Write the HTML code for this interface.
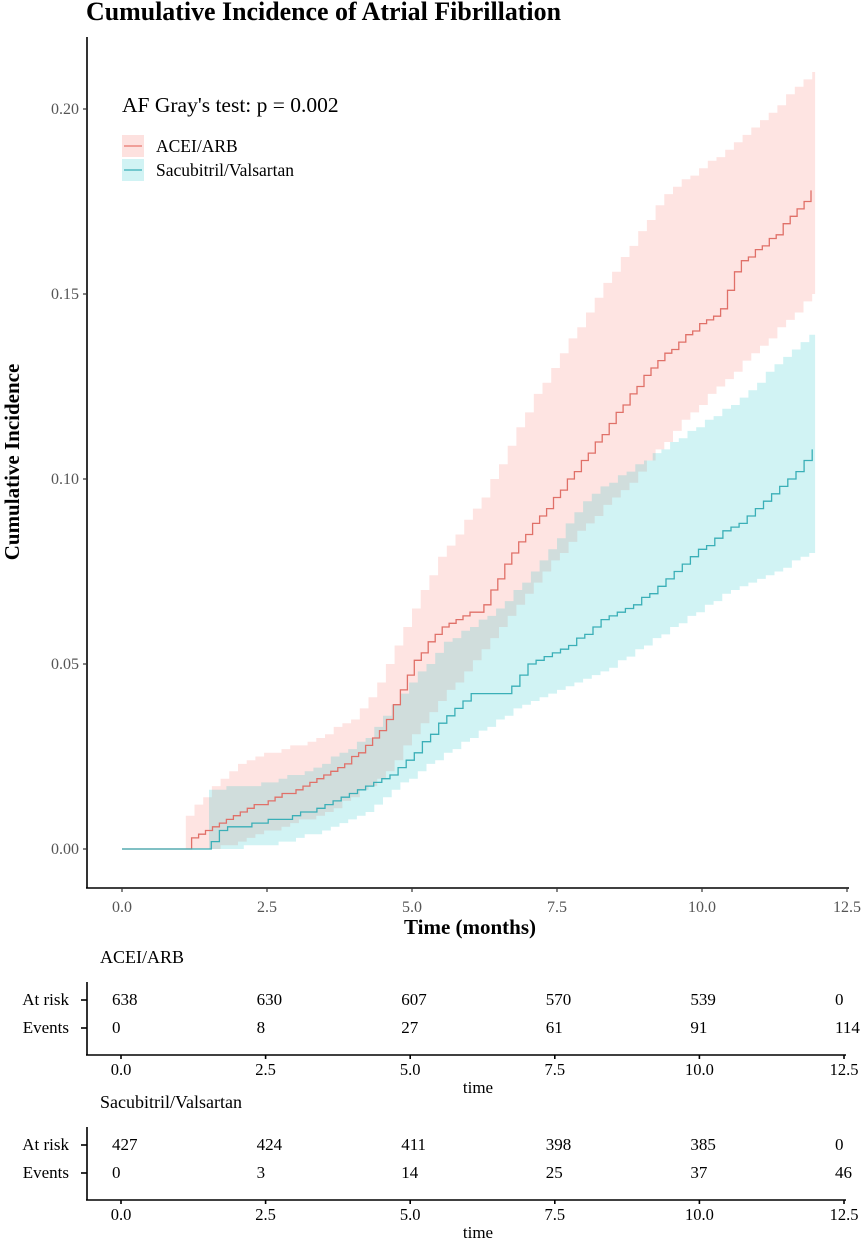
<!DOCTYPE html>
<html><head><meta charset="utf-8"><style>
html,body{margin:0;padding:0;background:#fff;}
svg{display:block;font-family:"Liberation Serif",serif;}
</style></head><body>
<svg id="s" width="863" height="1242" viewBox="0 0 863 1242" xmlns="http://www.w3.org/2000/svg">
<text x="86" y="20" font-size="26" font-weight="bold" fill="#000" textLength="475" lengthAdjust="spacingAndGlyphs">Cumulative Incidence of Atrial Fibrillation</text>
<g id="plot"></g>
<line x1="87" y1="37" x2="87" y2="888" stroke="#000" stroke-width="1.6"/>
<line x1="86" y1="888" x2="849" y2="888" stroke="#000" stroke-width="1.6"/>
<g id="ax" font-size="16" fill="#555"></g>
<text x="470" y="934" text-anchor="middle" font-size="21" font-weight="bold">Time (months)</text>
<text transform="translate(19,462) rotate(-90)" text-anchor="middle" font-size="21" font-weight="bold">Cumulative Incidence</text>
<text x="122" y="112" font-size="21.5">AF Gray's test: p = 0.002</text>
<rect x="122" y="135" width="22" height="22" fill="#F8766D" fill-opacity="0.22"/>
<line x1="124" y1="146" x2="142" y2="146" stroke="#E8766D" stroke-width="1.3"/>
<rect x="122" y="159" width="22" height="22" fill="#00BFC4" fill-opacity="0.18"/>
<line x1="124" y1="170" x2="142" y2="170" stroke="#3AAFB7" stroke-width="1.3"/>
<text x="156" y="152" font-size="17.5">ACEI/ARB</text>
<text x="156" y="176" font-size="17.5">Sacubitril/Valsartan</text>
<g id="tab" font-size="17" fill="#000"></g>
</svg>
<script>
var NS="http://www.w3.org/2000/svg";
function el(p,t,a,txt){var e=document.createElementNS(NS,t);for(var k in a)e.setAttribute(k,a[k]);if(txt!=null)e.textContent=txt;p.appendChild(e);return e;}
var X=function(t){return 122+58*t;}, Y=function(v){return 849-3700*v;};
function interp(pts,t){if(t<=pts[0][0])return pts[0][1];for(var i=1;i<pts.length;i++){if(t<=pts[i][0]){var a=pts[i-1],b=pts[i];return a[1]+(b[1]-a[1])*(t-a[0])/(b[0]-a[0]);}}return pts[pts.length-1][1];}
function steps(pts,start,end,dt){var r=[];for(var t=start;t<=end+1e-9;t+=dt){var v=Math.round(interp(pts,t)*1000)/1000;r.push([t,v]);}return r;}
function stepPath(s){var d="M"+X(s[0][0])+","+Y(s[0][1]);for(var i=1;i<s.length;i++){d+="H"+X(s[i][0]).toFixed(1)+"V"+Y(s[i][1]).toFixed(1);}return d;}
function band(up,lo){var d="M"+X(up[0][0])+","+Y(up[0][1]);for(var i=1;i<up.length;i++){d+="H"+X(up[i][0]).toFixed(1)+"V"+Y(up[i][1]).toFixed(1);}
d+="H"+X(11.95).toFixed(1)+"V"+Y(lo[lo.length-1][1]).toFixed(1);for(var i=lo.length-1;i>=1;i--){d+="H"+X(lo[i][0]).toFixed(1)+"V"+Y(lo[i-1][1]).toFixed(1);}d+="H"+X(lo[0][0])+"Z";return d;}
var aC=[[0,0],[1.1,0],[1.2,0.003],[1.6,0.006],[2,0.01],[2.5,0.013],[3,0.016],[3.5,0.02],[4,0.025],[4.5,0.033],[5,0.05],[5.5,0.06],[6.2,0.065],[6.7,0.08],[7.7,0.1],[8.4,0.115],[9.1,0.13],[9.8,0.14],[10.3,0.145],[10.6,0.158],[11.2,0.165],[11.9,0.178]];
var aU=[[1.1,0.009],[1.6,0.018],[2.2,0.025],[3,0.028],[4,0.035],[4.5,0.048],[5,0.065],[5.5,0.08],[6.2,0.095],[7,0.12],[7.8,0.14],[8.6,0.16],[9.4,0.178],[10.5,0.19],[11.9,0.21]];
var aL=[[1.1,0],[1.6,0],[2.5,0.005],[3.5,0.01],[4.5,0.02],[5.2,0.035],[6,0.05],[7,0.07],[7.8,0.085],[8.8,0.1],[9.6,0.115],[10.6,0.13],[11.9,0.15]];
var sC=[[0,0],[1.5,0],[1.6,0.005],[2.7,0.008],[3.2,0.01],[4,0.015],[4.6,0.02],[5,0.025],[5.5,0.035],[6,0.042],[6.6,0.042],[7,0.05],[7.7,0.055],[8.3,0.062],[9,0.068],[9.5,0.075],[10.3,0.085],[10.8,0.09],[11.5,0.1],[11.9,0.108]];
var sU=[[1.5,0.016],[2.5,0.018],[3.3,0.022],[4.2,0.03],[4.7,0.04],[5.5,0.055],[6.5,0.065],[7.2,0.078],[8,0.095],[9,0.105],[10.5,0.12],[11.9,0.14]];
var sL=[[1.5,0],[2.5,0.001],[3.5,0.005],[4.2,0.01],[5,0.02],[6,0.03],[7,0.04],[8.5,0.05],[9.5,0.06],[10.5,0.07],[11.9,0.08]];
var g=document.getElementById("plot");
el(g,"path",{d:band(steps(aU,1.1,11.95,0.15),steps(aL,1.1,11.95,0.15)),fill:"#F8766D","fill-opacity":"0.2"});
el(g,"path",{d:band(steps(sU,1.5,11.95,0.15),steps(sL,1.5,11.95,0.15)),fill:"#00BFC4","fill-opacity":"0.18"});
el(g,"path",{d:stepPath(steps(aC,0,11.95,0.12)),fill:"none",stroke:"#E07068","stroke-width":"1.3"});
el(g,"path",{d:stepPath(steps(sC,0,11.95,0.14)),fill:"none",stroke:"#3AAFB7","stroke-width":"1.3"});
var ax=document.getElementById("ax");
["0.00","0.05","0.10","0.15","0.20"].forEach(function(l,i){var y=Y(i*0.05);el(ax,"line",{x1:83,y1:y,x2:87,y2:y,stroke:"#333","stroke-width":1.2});el(ax,"text",{x:79,y:y+5,"text-anchor":"end"},l);});
["0.0","2.5","5.0","7.5","10.0","12.5"].forEach(function(l,i){var x=X(i*2.5);el(ax,"line",{x1:x,y1:888,x2:x,y2:892,stroke:"#333","stroke-width":1.2});el(ax,"text",{x:x,y:912,"text-anchor":"middle"},l);});
var tb=document.getElementById("tab");
function table(top,title,risk,ev){
 el(tb,"text",{x:100,y:top+6,"font-size":18},title);
 var ar=top+48, evy=top+76, axy=top+98;
 el(tb,"line",{x1:87,y1:top+25,x2:87,y2:axy,stroke:"#000","stroke-width":1.6});
 el(tb,"line",{x1:86,y1:axy,x2:846,y2:axy,stroke:"#000","stroke-width":1.6});
 el(tb,"line",{x1:81,y1:ar-5,x2:87,y2:ar-5,stroke:"#000","stroke-width":1.6});
 el(tb,"line",{x1:81,y1:evy-5,x2:87,y2:evy-5,stroke:"#000","stroke-width":1.6});
 el(tb,"text",{x:69,y:ar,"text-anchor":"end"},"At risk");
 el(tb,"text",{x:69,y:evy,"text-anchor":"end"},"Events");
 ["0.0","2.5","5.0","7.5","10.0","12.5"].forEach(function(l,i){var x=121+57.84*2.5*i;
  el(tb,"line",{x1:x,y1:axy,x2:x,y2:axy+4,stroke:"#000","stroke-width":1.6});
  el(tb,"text",{x:x,y:axy+20,"text-anchor":"middle","font-size":16.5},l);
  el(tb,"text",{x:x-9,y:ar},risk[i]);el(tb,"text",{x:x-9,y:evy},ev[i]);});
 el(tb,"text",{x:478,y:axy+38,"text-anchor":"middle"},"time");
}
table(957,"ACEI/ARB",["638","630","607","570","539","0"],["0","8","27","61","91","114"]);
table(1102,"Sacubitril/Valsartan",["427","424","411","398","385","0"],["0","3","14","25","37","46"]);
</script>
</body></html>
